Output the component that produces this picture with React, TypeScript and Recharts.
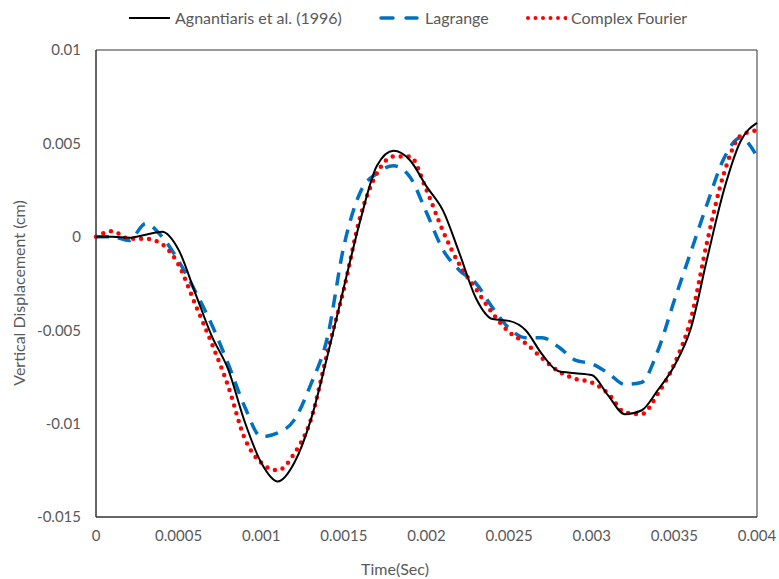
import React from "react";
import { LineChart, Line, XAxis, YAxis, ReferenceArea } from "recharts";

// time samples (s)
const times = [
  0, 0.0001, 0.0002, 0.0003, 0.0004, 0.0005, 0.0006, 0.0007, 0.0008, 0.0009,
  0.001, 0.0011, 0.0012, 0.0013, 0.0014, 0.0015, 0.0016, 0.0017, 0.0018, 0.0019,
  0.002, 0.0021, 0.0022, 0.0023, 0.0024, 0.0025, 0.0026, 0.0027, 0.0028, 0.0029,
  0.003, 0.0031, 0.0032, 0.0033, 0.0034, 0.0035, 0.0036, 0.0037, 0.0038, 0.0039,
  0.004,
];

// vertical displacement (cm)
const agnantiaris = [
  0, 0, -0.00005, 0.00011, 0.00027, -0.0007, -0.003, -0.0053, -0.0071, -0.0099,
  -0.0121, -0.0131, -0.0121, -0.0098, -0.0064, -0.0027, 0.0009, 0.0038, 0.0046, 0.0041,
  0.0027, 0.0014, -0.0009, -0.0033, -0.0044, -0.0045, -0.005, -0.0063, -0.0072, -0.0073,
  -0.0074, -0.0085, -0.0095, -0.0093, -0.0082, -0.0069, -0.0049, -0.0011, 0.0025, 0.0051,
  0.0061,
];

const lagrange = [
  0, 0, -0.0002, 0.0007, 0, -0.0013, -0.0029, -0.0047, -0.0068, -0.0091,
  -0.0107, -0.0105, -0.0098, -0.0079, -0.0054, -0.0005, 0.0024, 0.0034, 0.0038, 0.0032,
  0.0013, -0.0007, -0.0018, -0.0025, -0.0038, -0.0049, -0.0054, -0.0054, -0.0059, -0.0066,
  -0.0068, -0.0073, -0.0079, -0.0078, -0.0061, -0.0034, -0.0008, 0.0018, 0.0042, 0.0053,
  0.0043,
];

const complexFourier = [
  0, 0.0003, -0.0001, -0.0001, -0.0004, -0.0015, -0.0036, -0.0057, -0.008, -0.0108,
  -0.0121, -0.0125, -0.0116, -0.0098, -0.0062, -0.0028, 0.0011, 0.0034, 0.0043, 0.0043,
  0.0025, 0.0003, -0.0015, -0.0028, -0.0041, -0.0051, -0.0057, -0.0065, -0.0072, -0.0076,
  -0.0078, -0.0084, -0.0094, -0.0095, -0.0084, -0.0068, -0.0044, -0.0002, 0.0034, 0.0054,
  0.0057,
];

const xTicks = [0, 0.0005, 0.001, 0.0015, 0.002, 0.0025, 0.003, 0.0035, 0.004];
const yTicks = [-0.015, -0.01, -0.005, 0, 0.005, 0.01];

const data = times.map((t, i) => ({
  t,
  agn: agnantiaris[i],
  lag: lagrange[i],
  cf: complexFourier[i],
}));

const FONT = "Lato, 'Open Sans', sans-serif";
const GRAY = "#595959";

// legend entry: sample line + text, placed at a fixed x
const LegendItem = ({ left, sample, label }: { left: number; sample: React.ReactNode; label: string }) => (
  <div style={{ position: "absolute", left, top: 0, display: "flex", alignItems: "center" }}>
    <svg width={42} height={10} style={{ marginRight: 4 }}>
      {sample}
    </svg>
    <span>{label}</span>
  </div>
);

export default function App() {
  return (
    <div
      style={{
        position: "absolute",
        left: 0,
        top: 0,
        width: 779,
        height: 579,
        background: "#fff",
        fontFamily: FONT,
      }}
    >
      <LineChart
        width={779}
        height={579}
        data={data}
        margin={{ top: 50, right: 22, bottom: 0, left: 0 }}
      >
        <XAxis
          dataKey="t"
          type="number"
          domain={[0, 0.004]}
          ticks={xTicks}
          tickFormatter={(v: number) => String(v)}
          tickLine={false}
          tickSize={0}
          tickMargin={13}
          height={62}
          axisLine={{ stroke: "#333", strokeWidth: 1 }}
          tick={{ fill: GRAY, fontSize: 15, fontFamily: FONT }}
          interval={0}
        />
        <YAxis
          type="number"
          domain={[-0.015, 0.01]}
          ticks={yTicks}
          tickFormatter={(v: number) => String(v)}
          tickLine={false}
          tickSize={0}
          tickMargin={15}
          width={96}
          axisLine={{ stroke: "#333", strokeWidth: 1 }}
          tick={{ fill: GRAY, fontSize: 15, fontFamily: FONT }}
          interval={0}
        />
        <ReferenceArea
          x1={0}
          x2={0.004}
          y1={-0.015}
          y2={0.01}
          fill="none"
          stroke="#333"
          strokeWidth={1}
          ifOverflow="visible"
        />
        <Line
          dataKey="lag"
          type="monotone"
          stroke="#0070C0"
          strokeWidth={3.5}
          strokeDasharray="13 9"
          dot={false}
          isAnimationActive={false}
        />
        <Line
          dataKey="cf"
          type="monotone"
          stroke="#FF0000"
          strokeWidth={4.5}
          strokeDasharray="0 8"
          strokeLinecap="round"
          dot={false}
          isAnimationActive={false}
        />
        <Line
          dataKey="agn"
          type="monotone"
          stroke="#000"
          strokeWidth={2}
          dot={false}
          isAnimationActive={false}
        />
      </LineChart>

      {/* legend */}
      <div
        style={{
          position: "absolute",
          top: 8,
          left: 0,
          width: 779,
          height: 22,
          fontSize: 16,
          color: GRAY,
          whiteSpace: "nowrap",
        }}
      >
        <LegendItem
          left={129}
          sample={<line x1={0} y1={5} x2={41} y2={5} stroke="#000" strokeWidth={2} />}
          label="Agnantiaris et al. (1996)"
        />
        <LegendItem
          left={379}
          sample={
            <line x1={2} y1={5} x2={38} y2={5} stroke="#0070C0" strokeWidth={3.5} strokeDasharray="12 13" strokeLinecap="round" />
          }
          label="Lagrange"
        />
        <LegendItem
          left={525}
          sample={
            <line x1={3} y1={5} x2={41} y2={5} stroke="#FF0000" strokeWidth={4} strokeDasharray="0 7.5" strokeLinecap="round" />
          }
          label="Complex Fourier"
        />
      </div>

      {/* axis titles */}
      <div
        style={{
          position: "absolute",
          left: 395,
          top: 568,
          transform: "translate(-50%, -50%)",
          fontSize: 16,
          color: GRAY,
          whiteSpace: "nowrap",
        }}
      >
        Time(Sec)
      </div>
      <div
        style={{
          position: "absolute",
          left: 18,
          top: 293,
          transform: "translate(-50%, -50%) rotate(-90deg)",
          fontSize: 16,
          color: GRAY,
          whiteSpace: "nowrap",
        }}
      >
        Vertical Displacement (cm)
      </div>
    </div>
  );
}
